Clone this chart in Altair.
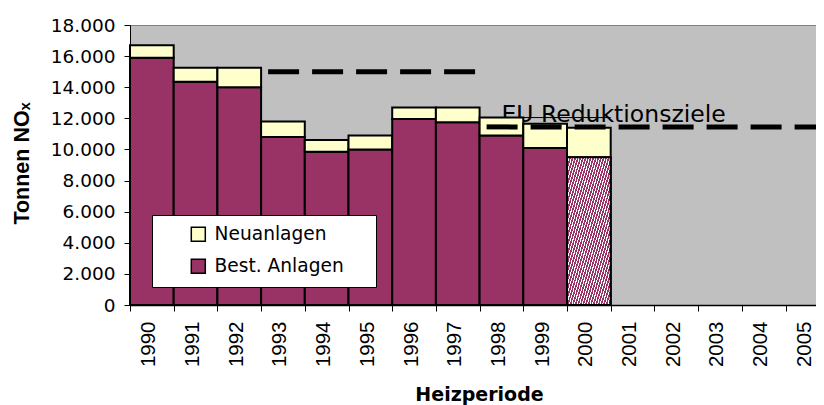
import altair as alt
import pandas as pd

# ---- data ----
years = ["1990", "1991", "1992", "1993", "1994", "1995", "1996", "1997",
         "1998", "1999", "2000", "2001", "2002", "2003", "2004", "2005"]
bar_years = ["1990", "1991", "1992", "1993", "1994", "1995", "1996", "1997",
             "1998", "1999", "2000"]
best_anlagen = [15900, 14350, 14000, 10800, 9850, 10000, 11950, 11750, 10900, 10100, 9500]
neuanlagen = [800, 900, 1250, 1000, 750, 900, 750, 950, 1150, 1550, 1900]
series_names = ["Neuanlagen", "Best. Anlagen"]
series_colors = ["#FFFFCC", "#993366"]

# EU reduction targets (dashed)
target_start = ["1993", "1998"]
target_end = ["1997", "2005"]
target_value = [15000, 11450]
target_label = "EU Reduktionsziele"
label_year = ["1998"]
label_value = [11750]
# thin line
thin_start = ["1998"]
thin_end = ["2000"]
thin_value = [12050]

rows = []
for y, b, n in zip(bar_years, best_anlagen, neuanlagen):
    rows.append({"year": y, "series": "Best. Anlagen", "value": b, "ord": 0})
    rows.append({"year": y, "series": "Neuanlagen", "value": n, "ord": 1})
bars_df = pd.DataFrame(rows)
pattern_df = pd.DataFrame({"year": [bar_years[-1]], "value": [best_anlagen[-1]]})
targets_df = pd.DataFrame({"start": target_start, "end": target_end, "value": target_value})
label_df = pd.DataFrame({"year": label_year, "value": label_value, "text": [target_label]})
thin_df = pd.DataFrame({"start": thin_start, "end": thin_end, "value": thin_value})

PLOT_W = 686
BAND_W = 43.7
xscale = alt.Scale(domain=years, range=[0, BAND_W * len(years)], paddingInner=0, paddingOuter=0)
yscale = alt.Scale(domain=[0, 18000], nice=False)

x_axis = alt.Axis(
    title="Heizperiode", titleFont="DejaVu Sans", titleFontSize=19, titleFontWeight="bold",
    titleColor="black", titleX=349, titleY=95, titleAlign="center", titleBaseline="alphabetic",
    titleAngle=0,
    labelAngle=270, labelFont="Liberation Sans", labelFontSize=20.5, labelColor="black",
    labelAlign="right", labelBaseline="middle", labelPadding=10, labelOffset=-3,
    tickBand="extent", tickSize=6, tickColor="black", tickWidth=1,
    domainColor="black", domainWidth=1.5, grid=False,
)
y_axis = alt.Axis(
    title="Tonnen NOₓ", titleFont="Liberation Sans", titleFontSize=21.5, titleFontWeight="bold",
    titleColor="black", titleAngle=270, titleX=-102, titleY=138, titleAlign="center",
    titleBaseline="alphabetic",
    values=[0, 2000, 4000, 6000, 8000, 10000, 12000, 14000, 16000, 18000],
    labelExpr="replace(format(datum.value, ','), ',', '.')",
    labelFont="DejaVu Sans", labelFontSize=18.5, labelColor="black", labelPadding=9,
    tickSize=6, tickColor="black", domainColor="black", domainWidth=1,
    grid=True, gridColor="#808080", gridWidth=1,
    gridOpacity={"condition": {"test": "datum.value === 18000", "value": 1}, "value": 0},
)

base_x = alt.X("year:O", scale=xscale, axis=x_axis)

label_layer = alt.Chart(label_df).mark_text(
    align="left", baseline="alphabetic", font="DejaVu Sans", fontSize=23.5, color="black"
).encode(
    x=alt.X("year:O", scale=xscale, axis=x_axis),
    y=alt.Y("value:Q", scale=yscale, axis=y_axis),
    text="text:N",
)

bars = alt.Chart(bars_df).mark_bar(stroke="black", strokeWidth=2, opacity=1).encode(
    x=base_x,
    y=alt.Y("value:Q", stack="zero", scale=yscale, axis=y_axis),
    color=alt.Color(
        "series:N",
        scale=alt.Scale(domain=series_names, range=series_colors),
        legend=alt.Legend(
            title=" ", titleOrient="right", titlePadding=22, titleFontSize=10,
            orient="none", legendX=22, legendY=190,
            fillColor="white", strokeColor="black", padding=10,
            symbolType="square", symbolSize=196, symbolStrokeColor="black",
            symbolStrokeWidth=1.5, symbolOffset=27, symbolOpacity=1,
            labelFont="DejaVu Sans", labelFontSize=18.6, labelColor="black",
            labelOffset=7, rowPadding=11,
        ),
    ),
    order=alt.Order("ord:Q"),
)

stops = []
n_stripes = 34
for i in range(n_stripes):
    a = i / n_stripes
    b = (i + 0.6) / n_stripes
    c = (i + 1) / n_stripes
    stops += [
        alt.GradientStop(color="#993366", offset=a),
        alt.GradientStop(color="#993366", offset=b),
        alt.GradientStop(color="#FFFFFF", offset=b),
        alt.GradientStop(color="#FFFFFF", offset=c),
    ]
pattern_fill = alt.LinearGradient(gradient="linear", stops=stops, x1=0, y1=0, x2=1, y2=1)

pattern = alt.Chart(pattern_df).mark_bar(fill=pattern_fill, stroke="black", strokeWidth=2).encode(
    x=base_x,
    y=alt.Y("value:Q", stack=None, scale=yscale, axis=y_axis),
)

thin = alt.Chart(thin_df).mark_rule(color="black", strokeWidth=1).encode(
    x=alt.X("start:O", scale=xscale, axis=x_axis, bandPosition=0),
    x2=alt.X2("end", bandPosition=1),
    y=alt.Y("value:Q", scale=yscale, axis=y_axis),
)

targets = alt.Chart(targets_df).mark_rule(
    color="black", strokeWidth=5, strokeDash=[31, 13], strokeDashOffset=37, strokeCap="butt"
).encode(
    x=alt.X("start:O", scale=xscale, axis=x_axis, bandPosition=0),
    x2=alt.X2("end", bandPosition=1),
    y=alt.Y("value:Q", scale=yscale, axis=y_axis),
)

chart = alt.layer(label_layer, bars, pattern, thin, targets).properties(
    width=PLOT_W, height=280,
    padding={"left": 122, "top": 17, "right": 0, "bottom": 100},
    autosize=alt.AutoSizeParams(type="none"),
    background="white",
).configure_view(
    fill="#C0C0C0", stroke=None
)

chart.save("out.html", embed_options={"renderer": "svg", "actions": False})
